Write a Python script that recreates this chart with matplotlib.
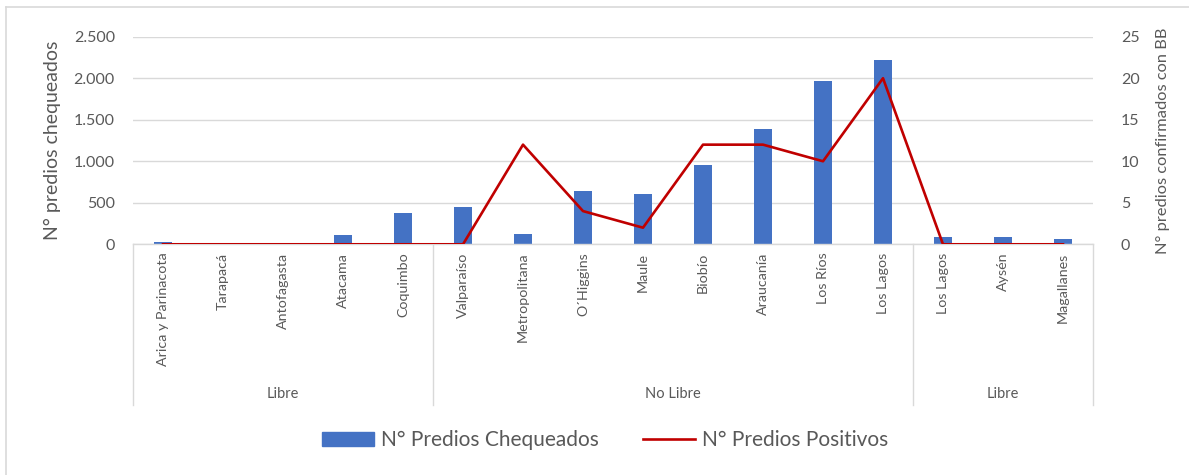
import matplotlib
matplotlib.use("Agg")
import matplotlib.pyplot as plt
from matplotlib.ticker import FuncFormatter, MultipleLocator
from matplotlib.patches import Rectangle
from matplotlib.lines import Line2D
import matplotlib.transforms as mtransforms

plt.rcParams['font.family'] = ['Lato', 'DejaVu Sans']

regions = ["Arica y Parinacota", "Tarapacá", "Antofagasta", "Atacama", "Coquimbo",
           "Valparaíso", "Metropolitana", "O´Higgins", "Maule", "Biobío", "Araucanía",
           "Los Ríos", "Los Lagos", "Los Lagos", "Aysén", "Magallanes"]
groups = ["Libre", "No Libre", "Libre"]
group_sizes = [5, 8, 3]
chequeados = [28, 10, 10, 112, 373, 445, 120, 642, 606, 959, 1385, 1967, 2220, 84, 92, 60]
positivos = [0, 0, 0, 0, 0, 0, 12, 4, 2, 12, 12, 10, 20, 0, 0, 0]

BAR = '#4472c4'
LINE = '#c00000'
TXT = '#595959'
GRID = '#d9d9d9'

W, H = 1189, 475
fig = plt.figure(figsize=(W / 100, H / 100), dpi=100)
left, right, bot, top = 133, 1093, 244.3, 36.7
ax = fig.add_axes([left / W, 1 - bot / H, (right - left) / W, (bot - top) / H])

x = list(range(len(regions)))
ax.bar(x, chequeados, width=0.31, color=BAR, zorder=2)
ax.set_xlim(-0.5, len(regions) - 0.5)
ax.set_ylim(0, 2500)
ax.yaxis.set_major_locator(MultipleLocator(500))
ax.yaxis.set_major_formatter(FuncFormatter(lambda v, p: f"{int(v):,}".replace(",", ".")))
ax.grid(axis='y', color=GRID, lw=1.0, zorder=0)
ax.set_axisbelow(True)
for s in ['top', 'right', 'left']:
    ax.spines[s].set_visible(False)
ax.spines['bottom'].set_color(GRID)
ax.spines['bottom'].set_linewidth(1.0)
ax.tick_params(axis='y', length=0, pad=13, labelsize=11.5, labelcolor=TXT)
ax.set_xticks(x)
ax.set_xticklabels(regions, rotation=90, va='top', ha='center')
ax.tick_params(axis='x', length=0, pad=6, labelsize=10.3, labelcolor=TXT)
ax.set_ylabel("N° predios chequeados", fontsize=14, color=TXT)
ax.yaxis.set_label_coords((61 - left) / (right - left), 0.5)

ax2 = ax.twinx()
ax2.plot(x, positivos, color=LINE, lw=1.9, zorder=3)
ax2.set_ylim(0, 25)
ax2.yaxis.set_major_locator(MultipleLocator(5))
for s in ['top', 'right', 'left', 'bottom']:
    ax2.spines[s].set_visible(False)
ax2.tick_params(axis='y', length=0, pad=20, labelsize=11.5, labelcolor=TXT)
ax2.set_ylabel("N° predios confirmados con BB", fontsize=11.8, color=TXT)
ax2.yaxis.set_label_coords((1156 - left) / (right - left), 0.5)

# multi-level category axis
trans = mtransforms.blended_transform_factory(ax.transData, ax.transAxes)
ah = bot - top
y_end = -(405 - bot) / ah
y_grp = -(394 - bot) / ah
b = -0.5
bounds = [b]
for n in group_sizes:
    b += n
    bounds.append(b)
for bx in bounds:
    ax.add_line(Line2D([bx, bx], [0, y_end], transform=trans, color=GRID, lw=1.0, clip_on=False))
for i, g in enumerate(groups):
    ax.text((bounds[i] + bounds[i + 1]) / 2, y_grp, g, transform=trans, ha='center', va='center',
            fontsize=10.5, color=TXT)

# legend
h1 = Rectangle((0, 0), 1, 1, color=BAR)
h2 = Line2D([0], [0], color=LINE, lw=1.9)
fig.legend([h1, h2], ["N° Predios Chequeados", "N° Predios Positivos"], loc='center',
           bbox_to_anchor=(605 / W, 1 - 440 / H), ncol=2, frameon=False, fontsize=15,
           handlelength=2.5, handleheight=0.67, handletextpad=0.33, columnspacing=2.1,
           labelcolor=TXT)

# chart border
fig.add_artist(Line2D([6 / W, 6 / W], [0, 1 - 7 / H], transform=fig.transFigure, color=GRID, lw=1.2))
fig.add_artist(Line2D([6 / W, 1], [1 - 7 / H, 1 - 7 / H], transform=fig.transFigure, color=GRID, lw=1.2))

fig.savefig("out.png", dpi=100)
